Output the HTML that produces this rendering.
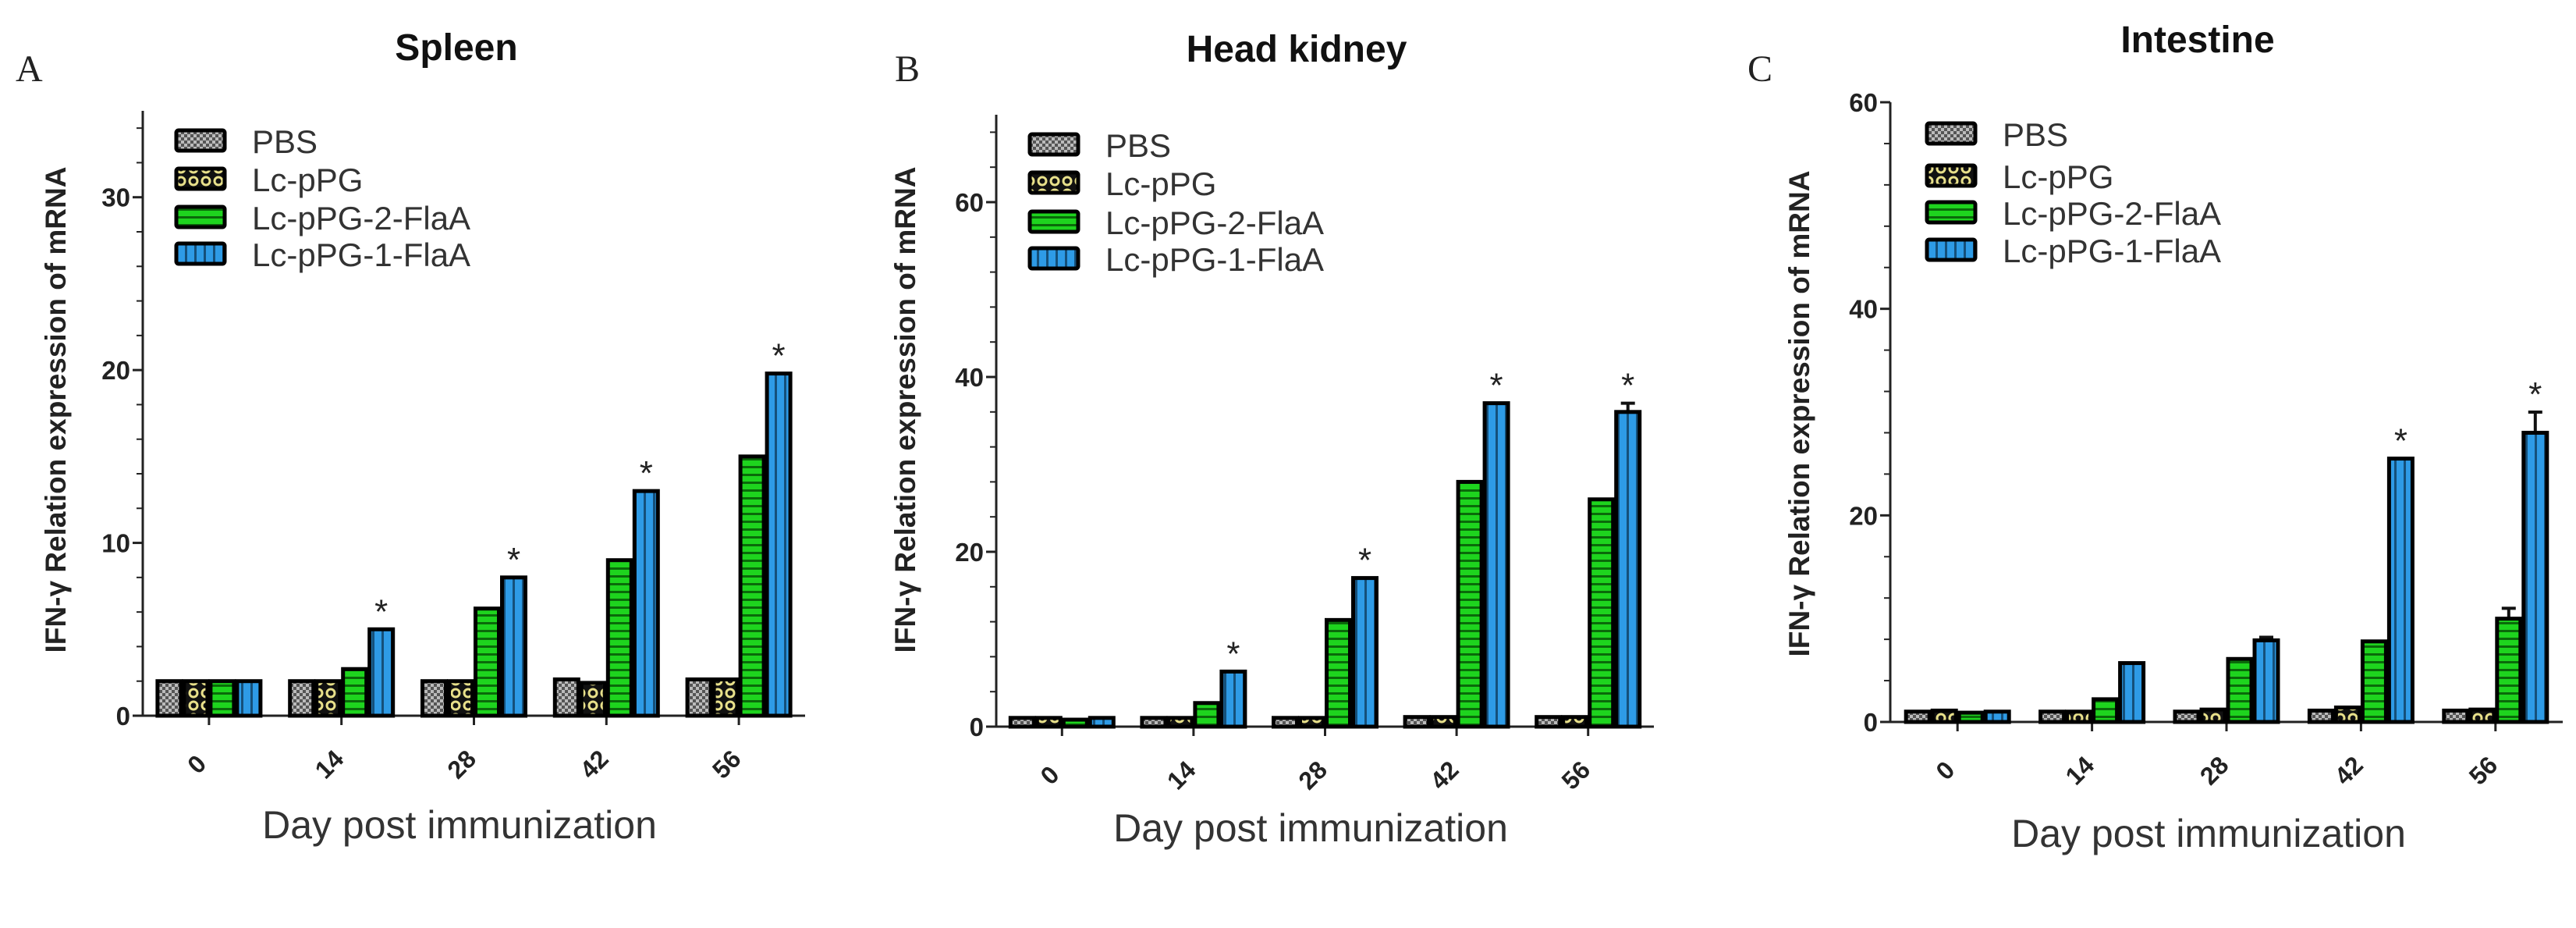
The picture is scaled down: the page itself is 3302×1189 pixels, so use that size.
<!DOCTYPE html>
<html><head><meta charset="utf-8"><style>
html,body{margin:0;padding:0;background:#fff}
svg{display:block}
text{font-family:"Liberation Sans",sans-serif}
text.serif{font-family:"Liberation Serif",serif}
</style></head><body>
<svg id="fig" width="3302" height="1189" viewBox="0 0 3302 1189" xmlns="http://www.w3.org/2000/svg">
<defs>
<pattern id="pPBS" width="8" height="8" patternUnits="userSpaceOnUse"><rect width="8" height="8" fill="#bbb"/><rect width="4" height="4" fill="#555"/><rect x="4" y="4" width="4" height="4" fill="#555"/></pattern>
<pattern id="pLc" width="16" height="16" patternUnits="userSpaceOnUse"><rect width="16" height="16" fill="#111"/><circle cx="8" cy="8" r="5" fill="none" stroke="#e8e08a" stroke-width="3"/></pattern>
<pattern id="pG2" width="10" height="10" patternUnits="userSpaceOnUse"><rect width="10" height="10" fill="#1ed41e"/><rect y="7" width="10" height="3" fill="#0a6a0a"/></pattern>
<pattern id="pG1" width="12" height="10" patternUnits="userSpaceOnUse"><rect width="12" height="10" fill="#2e9be6"/><rect x="9" width="3" height="10" fill="#15507a"/></pattern>
</defs>
</svg>
<script>
const categories = ["0","14","28","42","56"];
const seriesNames = ["PBS","Lc-pPG","Lc-pPG-2-FlaA","Lc-pPG-1-FlaA"];
const spleenPBS = [2,2,2,2.1,2.1];
const spleenLc = [2,2,2,1.9,2.1];
const spleenFla2 = [2,2.7,6.2,9,15];
const spleenFla1 = [2,5,8,13,19.8];
const spleenStars = [false,true,true,true,true];
const kidneyPBS = [1,1,1,1.1,1.1];
const kidneyLc = [1,1,1,1.1,1.1];
const kidneyFla2 = [0.8,2.7,12.2,28,26];
const kidneyFla1 = [1,6.3,17,37,36];
const kidneyFla1Err = [0,0,0,0,1];
const kidneyStars = [false,true,true,true,true];
const intPBS = [1,1,1,1.1,1.1];
const intLc = [1.1,1,1.2,1.4,1.2];
const intFla2 = [0.9,2.2,6.1,7.8,10];
const intFla2Err = [0,0,0,0,1];
const intFla1 = [1,5.7,7.9,25.5,28];
const intFla1Err = [0,0,0.3,0,2];
const intStars = [false,false,false,true,true];
const spleenTicks = [0,10,20,30];
const kidneyTicks = [0,20,40,60];
const intTicks = [0,20,40,60];

const NS="http://www.w3.org/2000/svg";
const svg=document.getElementById('fig');
function mk(tag,attrs,parent,txt){const e=document.createElementNS(NS,tag);for(const k in attrs)e.setAttribute(k,attrs[k]);if(txt!==undefined)e.textContent=txt;(parent||svg).appendChild(e);return e;}
const fills=["url(#pPBS)","url(#pLc)","url(#pG2)","url(#pG1)"];

function panel(p){
  const g=mk('g',{});
  
  
  const y=v=>p.y0-(v/p.max)*(p.y0-p.top);
  const w=p.x1-p.x0, gw=w/categories.length, bw=34;
  const ya=mk('line',{x1:p.x0,y1:p.top,x2:p.x0,y2:p.y0,stroke:'#222','stroke-width':3},g);
  
  
  const xa=mk('line',{x1:p.x0,y1:p.y0,x2:p.x1,y2:p.y0,stroke:'#222','stroke-width':3},g);
  
  
  for(let v=0;v<=p.max+1e-6;v+=p.minor){mk('line',{x1:p.x0-8,y1:y(v),x2:p.x0,y2:y(v),stroke:'#222','stroke-width':2},g);}
  p.ticks.forEach(t=>{
    mk('line',{x1:p.x0-13,y1:y(t),x2:p.x0,y2:y(t),stroke:'#222','stroke-width':3},g);
    const tl=mk('text',{x:p.x0-16,y:y(t)+12,'text-anchor':'end','font-size':33,'font-weight':'bold',fill:'#222'},g,String(t));
    
    
  });
  categories.forEach((c,i)=>{
    const cx=p.x0+(i+0.5)*gw;
    mk('line',{x1:cx,y1:p.y0,x2:cx,y2:p.y0+12,stroke:'#222','stroke-width':3},g);
    const tl=mk('text',{x:0,y:0,'text-anchor':'middle','font-size':32,'font-weight':'bold',fill:'#222',transform:`translate(${cx-8},${p.y0+70}) rotate(-45)`},g,c);
    
    
    p.series.forEach((s,k)=>{
      const bx=cx-2*bw+k*bw, v=s[i], yt=y(v);
      const e=p.errs[k]?p.errs[k][i]:0;
      if(e>0){
        mk('line',{x1:bx+bw/2,y1:y(v+e),x2:bx+bw/2,y2:yt,stroke:'#111','stroke-width':4},g);
        mk('line',{x1:bx+bw/2-9,y1:y(v+e),x2:bx+bw/2+9,y2:y(v+e),stroke:'#111','stroke-width':4},g);
      }
      const r=mk('rect',{x:bx+2,y:yt,width:bw-4,height:p.y0-yt,fill:fills[k],stroke:'#000','stroke-width':5},g);
      
      
    });
    if(p.stars[i]){
      const k=3, bx=cx-2*bw+k*bw, e=p.errs[3]?p.errs[3][i]:0;
      const st=mk('text',{x:bx+bw/2,y:y(p.series[3][i]+e)-8,'text-anchor':'middle','font-size':44,fill:'#222'},g,'*');
      
      
    }
  });
  seriesNames.forEach((n,k)=>{
    const ly=p.legY[k];
    const sw=mk('rect',{x:p.legX,y:ly-14,width:62,height:26,fill:fills[k],stroke:'#000','stroke-width':5,rx:3},g);
    
    
    const lt=mk('text',{x:p.legX+97,y:ly+15,'font-size':42,fill:'#333'},g,n);
    
    
  });
  const ttl=mk('text',{x:p.titleX,y:p.titleY,'text-anchor':'middle','font-size':48,'font-weight':'bold',fill:'#111'},g,p.title);
  
  
  const let_=mk('text',{x:p.letX,y:104,'font-size':48,fill:'#222','class':'serif'},g,p.letter);
  
  
  const yt=mk('text',{x:0,y:0,'text-anchor':'middle','font-size':37,'font-weight':'bold',fill:'#222',transform:`translate(${p.yTitleX},${p.yTitleY}) rotate(-90)`},g,'IFN-γ Relation expression of mRNA');
  
  
  const xt=mk('text',{x:p.xTitleX,y:p.xTitleY,'text-anchor':'middle','font-size':50,fill:'#333'},g,'Day post immunization');
  
  
}

panel({id:'spleen',title:'Spleen',letter:'A',x0:183,x1:1032,y0:917,top:142,max:35,minor:2,ticks:spleenTicks,
  series:[spleenPBS,spleenLc,spleenFla2,spleenFla1],errs:[null,null,null,null],stars:spleenStars,
  legX:226,legY:[181,230,279,326],titleX:585,titleY:77,letX:20,yTitleX:84,yTitleY:525,xTitleX:589,xTitleY:1074});
panel({id:'head-kidney',title:'Head kidney',letter:'B',x0:1277,x1:2120,y0:931,top:147,max:70,minor:4,ticks:kidneyTicks,
  series:[kidneyPBS,kidneyLc,kidneyFla2,kidneyFla1],errs:[null,null,null,kidneyFla1Err],stars:kidneyStars,
  legX:1320,legY:[186,235,285,332],titleX:1662,titleY:79,letX:1147,yTitleX:1173,yTitleY:525,xTitleX:1680,xTitleY:1078});
panel({id:'intestine',title:'Intestine',letter:'C',x0:2423,x1:3285,y0:925,top:131,max:60,minor:4,ticks:intTicks,
  series:[intPBS,intLc,intFla2,intFla1],errs:[null,null,intFla2Err,intFla1Err],stars:intStars,
  legX:2470,legY:[172,226,273,321],titleX:2817,titleY:67,letX:2240,yTitleX:2319,yTitleY:530,xTitleX:2831,xTitleY:1085});
</script>
</body></html>
